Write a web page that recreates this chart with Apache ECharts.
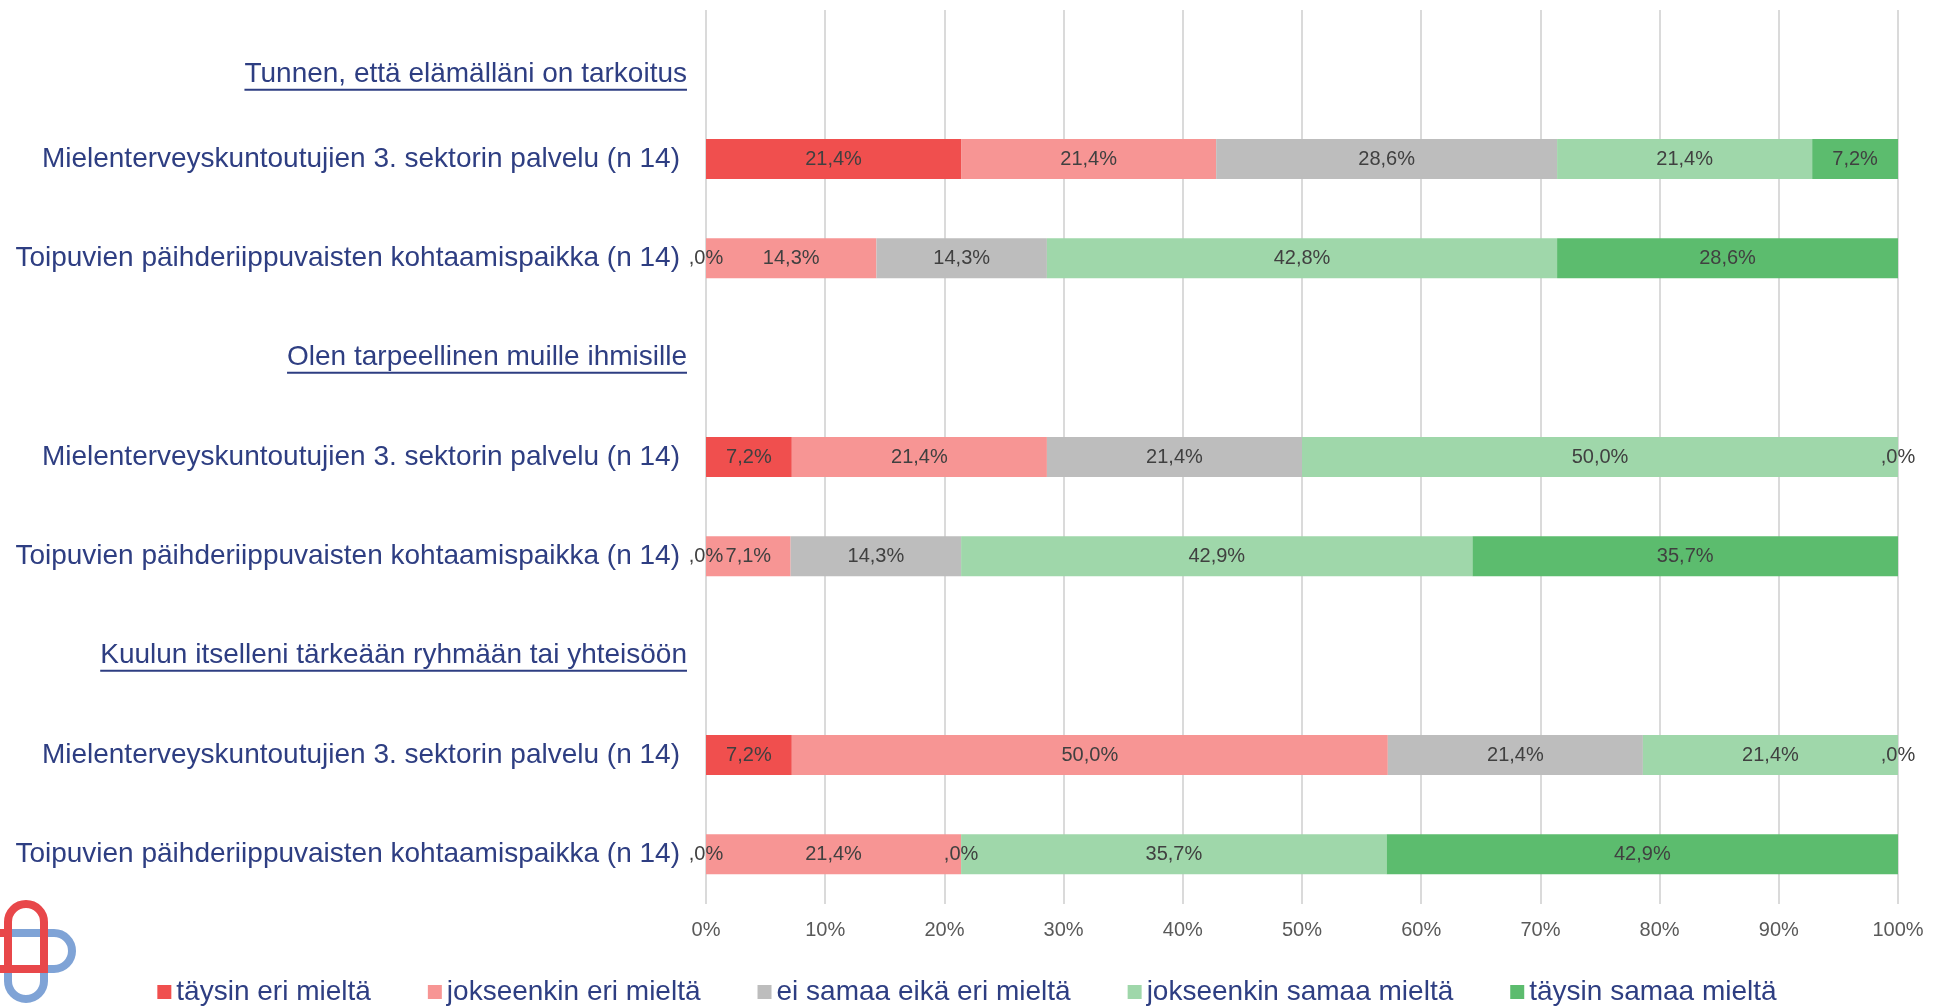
<!DOCTYPE html>
<html>
<head>
<meta charset="utf-8">
<script src="https://cdn.jsdelivr.net/npm/echarts@6/dist/echarts.min.js"></script>
<style>
    html, body { margin: 0; padding: 0; background: #fff; }
    #chart { width: 1934px; height: 1007px; }
</style>
</head>
<body>
<div id="chart"></div>
<script>
const categories = [
    'Tunnen, että elämälläni on tarkoitus',
    'Mielenterveyskuntoutujien 3. sektorin palvelu (n 14)',
    'Toipuvien päihderiippuvaisten kohtaamispaikka (n 14)',
    'Olen tarpeellinen muille ihmisille',
    'Mielenterveyskuntoutujien 3. sektorin palvelu (n 14)',
    'Toipuvien päihderiippuvaisten kohtaamispaikka (n 14)',
    'Kuulun itselleni tärkeään ryhmään tai yhteisöön',
    'Mielenterveyskuntoutujien 3. sektorin palvelu (n 14)',
    'Toipuvien päihderiippuvaisten kohtaamispaikka (n 14)'
]
const headingRows = [0, 3, 6]

const seriesNames = ['täysin eri mieltä', 'jokseenkin eri mieltä', 'ei samaa eikä eri mieltä', 'jokseenkin samaa mieltä', 'täysin samaa mieltä']
const seriesColors = ['#F04F4E', '#F79594', '#BDBDBD', '#9FD7AA', '#5CBC6E']

// percentages per row, null = heading row without bar
const taysinEri       = [null, 21.4,  0,   null,  7.2,  0,   null,  7.2,  0]
const jokseenkinEri   = [null, 21.4, 14.3, null, 21.4,  7.1, null, 50.0, 21.4]
const eiSamaaEikaEri  = [null, 28.6, 14.3, null, 21.4, 14.3, null, 21.4,  0]
const jokseenkinSamaa = [null, 21.4, 42.8, null, 50.0, 42.9, null, 21.4, 35.7]
const taysinSamaa     = [null,  7.2, 28.6, null,  0,   35.7, null,  0,   42.9]
const seriesData = [taysinEri, jokseenkinEri, eiSamaaEikaEri, jokseenkinSamaa, taysinSamaa]

const FONT = '"Liberation Sans", Arial, sans-serif'
const BLUE = '#2E3E82'
const LABEL_MARGIN = 19

function pct(v) {
    if (v === 0) return ',0%'
    return v.toFixed(1).replace('.', ',') + '%'
}

const chart = echarts.init(document.getElementById('chart'))

let option = {
    animation: false,
    backgroundColor: '#fff',
    grid: {left: 706, right: 36, top: 10, bottom: 103},
    legend: {
        bottom: -4,
        left: 'center',
        icon: 'rect',
        itemWidth: 14,
        itemHeight: 14,
        itemGap: 57,
        textStyle: {color: BLUE, fontSize: 28, fontFamily: FONT},
        data: seriesNames
    },
    xAxis: {
        type: 'value',
        min: 0,
        max: 100,
        interval: 10,
        axisLine: {show: false},
        axisTick: {show: false},
        axisLabel: {formatter: '{value}%', color: '#595959', fontSize: 20, fontFamily: FONT, margin: 16},
        splitLine: {show: true, lineStyle: {color: '#DADADA', width: 2}}
    },
    yAxis: {
        type: 'category',
        inverse: true,
        data: categories,
        axisLine: {show: false},
        axisTick: {show: false},
        axisLabel: {
            interval: 0,
            margin: LABEL_MARGIN,
            color: BLUE,
            fontSize: 28,
            fontFamily: FONT,
            formatter: (value, index) => {
                if (index === 0) return '{h1|' + value + '}'
                if (headingRows.includes(index)) return '{h|' + value + '}'
                return '{r|' + value + '}'
            },
            rich: {
                h1: {color: BLUE, fontSize: 28, fontFamily: FONT, padding: [30, 0, 0, 0]},
                h: {color: BLUE, fontSize: 28, fontFamily: FONT},
                r: {color: BLUE, fontSize: 28, fontFamily: FONT, padding: [0, 7, 0, 0]}
            }
        }
    },
    series: seriesNames.map((name, i) => ({
        name: name,
        type: 'bar',
        stack: 'total',
        barWidth: 40,
        itemStyle: {color: seriesColors[i]},
        label: {
            show: true,
            position: 'inside',
            color: '#404040',
            fontSize: 20,
            fontFamily: FONT,
            formatter: p => pct(p.value)
        },
        emphasis: {disabled: true},
        data: seriesData[i]
    }))
}

chart.setOption(option)

// underlines under the question headings + small logo bottom left
const ctx = document.createElement('canvas').getContext('2d')
ctx.font = '28px ' + FONT
const axisX = chart.convertToPixel({xAxisIndex: 0}, 0)
let graphics = headingRows.map(idx => {
    let y = chart.convertToPixel({yAxisIndex: 0}, idx)
    if (idx === 0) y += 15
    const w = ctx.measureText(categories[idx]).width
    return {
        type: 'rect',
        shape: {x: axisX - LABEL_MARGIN - w, y: y + 14, width: w, height: 2},
        style: {fill: BLUE},
        silent: true
    }
})

graphics.push(
    {
        type: 'rect',
        shape: {x: 8, y: 933, width: 64, height: 36, r: [0, 18, 18, 0]},
        style: {fill: null, stroke: '#7FA3D6', lineWidth: 8},
        silent: true
    },
    {
        type: 'rect',
        shape: {x: 8, y: 933, width: 36, height: 66, r: [0, 0, 18, 18]},
        style: {fill: null, stroke: '#7FA3D6', lineWidth: 8},
        silent: true
    },
    {
        type: 'rect',
        shape: {x: 8, y: 904, width: 36, height: 65, r: [18, 18, 0, 0]},
        style: {fill: null, stroke: '#E8474A', lineWidth: 8},
        silent: true
    },
    {
        type: 'rect',
        shape: {x: 0, y: 929, width: 8, height: 8},
        style: {fill: '#E8474A'},
        silent: true
    },
    {
        type: 'rect',
        shape: {x: 0, y: 965, width: 8, height: 8},
        style: {fill: '#E8474A'},
        silent: true
    }
)

chart.setOption({graphic: graphics})
</script>
</body>
</html>
